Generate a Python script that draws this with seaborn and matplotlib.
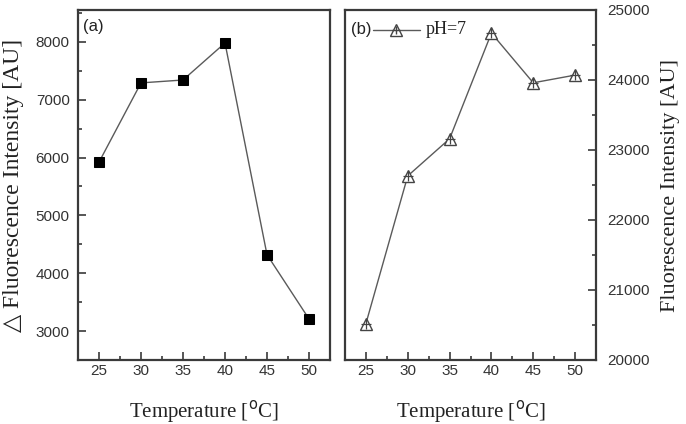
import matplotlib
matplotlib.use("Agg")
import matplotlib.pyplot as plt
import seaborn as sns
import pandas as pd
from matplotlib.ticker import MultipleLocator

temperature = [25, 30, 35, 40, 45, 50]
delta_intensity = [5920, 7290, 7340, 7980, 4320, 3210]
intensity_ph7 = [20520, 22630, 23160, 24670, 23960, 24070]

sns.set_style("ticks")
plt.rcParams["font.family"] = ["Liberation Sans", "DejaVu Sans"]

FRAME = "#3a3a3a"
LINE = "#5a5a5a"
SERIF = ["Liberation Serif", "DejaVu Serif"]

fig = plt.figure(figsize=(6.86, 4.24), dpi=100)
ax_a = fig.add_axes([78 / 686, 64 / 424, 252 / 686, 350 / 424])
ax_b = fig.add_axes([345 / 686, 64 / 424, 251 / 686, 350 / 424])

df_a = pd.DataFrame({"T": temperature, "I": delta_intensity})
df_b = pd.DataFrame({"T": temperature, "I": intensity_ph7})

sns.lineplot(data=df_a, x="T", y="I", ax=ax_a, color=LINE, linewidth=1.0,
             marker="s", markersize=6.5, markerfacecolor="black",
             markeredgecolor="black")
sns.lineplot(data=df_b, x="T", y="I", ax=ax_b, color=LINE, linewidth=1.0,
             marker="^", markersize=9, markerfacecolor="white",
             markeredgecolor="#444444", markeredgewidth=1.0)
ax_b.plot(temperature, intensity_ph7, linestyle="none", marker="+",
          markersize=7, color="#444444", markeredgewidth=0.9)

for ax in (ax_a, ax_b):
    ax.set_xlim(22.5, 52.5)
    ax.xaxis.set_major_locator(MultipleLocator(5))
    ax.xaxis.set_minor_locator(MultipleLocator(2.5))
    ax.yaxis.set_minor_locator(MultipleLocator(500))
    ax.tick_params(which="both", direction="in", color=FRAME, width=1.2,
                   labelsize=11, labelcolor="#333333")
    ax.tick_params(which="major", length=6)
    ax.tick_params(which="minor", length=3)
    ax.tick_params(axis="x", pad=3)
    for sp in ax.spines.values():
        sp.set_visible(True)
        sp.set_linewidth(1.6)
        sp.set_color(FRAME)
    ax.set_xlabel("Temperature [$^{\\mathrm{o}}$C]", family=SERIF, fontsize=15,
                  labelpad=14, color="#222222")

ax_a.set_ylim(2500, 8550)
ax_a.yaxis.set_major_locator(MultipleLocator(1000))
ax_a.tick_params(axis="y", pad=6)
ax_a.set_ylabel("\u25b3 Fluorescence Intensity [AU]", family=SERIF,
                fontsize=17, color="#222222")
ax_a.yaxis.set_label_coords(-0.215, 0.5)
ax_a.text(0.02, 0.975, "(a)", transform=ax_a.transAxes, fontsize=12,
          va="top", ha="left", color="#222222")

ax_b.set_ylim(20000, 25000)
ax_b.yaxis.set_major_locator(MultipleLocator(1000))
ax_b.yaxis.tick_right()
ax_b.yaxis.set_label_position("right")
ax_b.tick_params(axis="y", which="both", left=False, right=True, pad=8)
ax_b.set_ylabel("Fluorescence Intensity [AU]", family=SERIF, fontsize=16,
                color="#222222")
ax_b.yaxis.set_label_coords(1.26, 0.5)
ax_b.text(0.025, 0.943, "(b)", transform=ax_b.transAxes, fontsize=12,
          va="center", ha="left", color="#222222")

# legend entry drawn next to the panel tag
ax_b.plot([0.11, 0.30], [0.943, 0.943], transform=ax_b.transAxes,
          color=LINE, linewidth=1.0, clip_on=False)
ax_b.plot([0.205], [0.943], transform=ax_b.transAxes, marker="^",
          markersize=8, markerfacecolor="white", markeredgecolor="#444444",
          linestyle="none")
ax_b.plot([0.205], [0.943], transform=ax_b.transAxes, marker="+",
          markersize=6, color="#444444", linestyle="none")
ax_b.text(0.32, 0.943, "pH=7", transform=ax_b.transAxes, family=SERIF,
          fontsize=13, va="center", ha="left", color="#222222")

fig.savefig("out.png", dpi=100)
